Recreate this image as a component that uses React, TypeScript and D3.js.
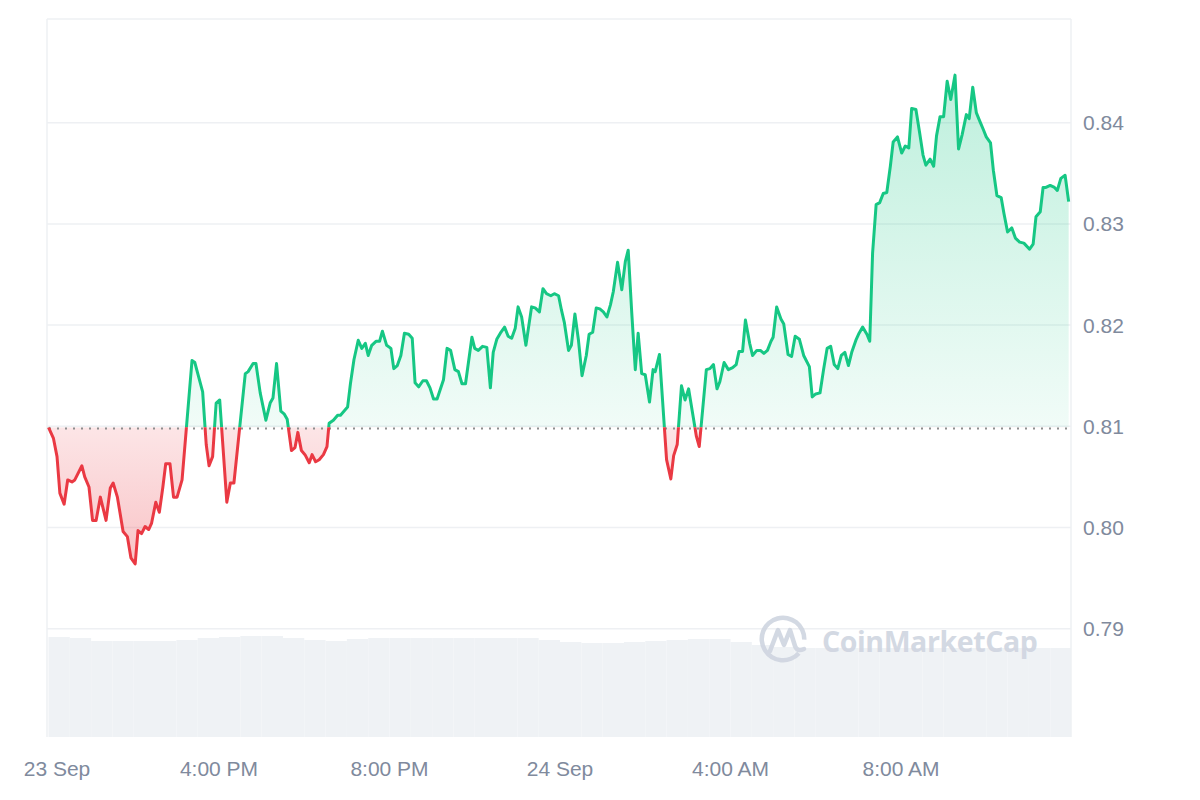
import React from "react";
import * as d3 from "d3";

// ---- Data (minutes after 12:00 PM, 23 Sep; price in USD) ----
const priceSeries: [number, number][] = [
  [0, 0.8099], [7, 0.8088], [12, 0.807], [16, 0.8034], [22, 0.8023], [27, 0.8047], [33, 0.8045], [37, 0.8047],
  [47, 0.8061], [51, 0.805], [57, 0.804], [62, 0.8007], [67, 0.8007], [73, 0.803], [81, 0.8007], [87, 0.8039],
  [91, 0.8044], [97, 0.803], [105, 0.7996], [111, 0.7991], [116, 0.797], [122, 0.7964], [126, 0.7997], [131, 0.7994],
  [136, 0.8001], [141, 0.7998], [145, 0.8004], [151, 0.8025], [156, 0.8015], [161, 0.804], [165, 0.8063], [171, 0.8063],
  [176, 0.803], [181, 0.803], [188, 0.8047], [202, 0.8165], [206, 0.8163], [217, 0.8134], [222, 0.8082], [226, 0.8061],
  [231, 0.807], [236, 0.8123], [241, 0.8126], [251, 0.8025], [256, 0.8044], [261, 0.8044], [277, 0.8152], [281, 0.8154],
  [288, 0.8162], [292, 0.8162], [298, 0.8133], [306, 0.8106], [312, 0.8123], [316, 0.8128], [321, 0.8162], [327, 0.8115],
  [332, 0.8112], [336, 0.8107], [342, 0.8076], [347, 0.8079], [351, 0.8094], [356, 0.8076], [361, 0.8072], [367, 0.8064],
  [371, 0.8072], [376, 0.8065], [381, 0.8067], [387, 0.8072], [392, 0.808], [395, 0.8103], [401, 0.8106], [407, 0.8111],
  [411, 0.8111], [421, 0.8119], [425, 0.8142], [430, 0.8166], [436, 0.8185], [441, 0.8177], [446, 0.8182], [450, 0.817],
  [455, 0.818], [461, 0.8184], [466, 0.8184], [470, 0.8194], [476, 0.818], [482, 0.8177], [486, 0.8157], [491, 0.816],
  [496, 0.817], [501, 0.8192], [507, 0.8191], [512, 0.8187], [516, 0.8143], [521, 0.8139], [527, 0.8145], [532, 0.8145],
  [537, 0.8138], [542, 0.8127], [547, 0.8127], [556, 0.8146], [561, 0.8177], [566, 0.8175], [572, 0.8156], [577, 0.8154],
  [582, 0.8142], [587, 0.8142], [596, 0.8188], [600, 0.8177], [605, 0.8175], [611, 0.8179], [617, 0.8178], [622, 0.8138],
  [626, 0.8173], [631, 0.8186], [636, 0.8192], [642, 0.8198], [647, 0.8189], [652, 0.8187], [657, 0.8197], [661, 0.8218],
  [666, 0.8208], [672, 0.818], [680, 0.8218], [685, 0.8217], [691, 0.8213], [696, 0.8236], [701, 0.8231], [707, 0.8229],
  [712, 0.8231], [718, 0.8229], [722, 0.8215], [726, 0.8203], [732, 0.8175], [736, 0.818], [741, 0.8211], [746, 0.8185],
  [751, 0.815], [757, 0.817], [761, 0.8191], [766, 0.8193], [771, 0.8217], [776, 0.8216], [781, 0.8213], [786, 0.8208],
  [791, 0.822], [795, 0.8233], [801, 0.8262], [807, 0.8235], [812, 0.8263], [816, 0.8274], [821, 0.8212], [826, 0.8156],
  [830, 0.8192], [835, 0.8152], [840, 0.8151], [846, 0.8124], [851, 0.8156], [854, 0.8154], [860, 0.8171], [870, 0.8067],
  [876, 0.8048], [880, 0.8071], [885, 0.8082], [891, 0.814], [896, 0.8126], [901, 0.8137], [912, 0.809], [916, 0.808],
  [926, 0.8156], [931, 0.8157], [936, 0.8161], [941, 0.8137], [945, 0.8144], [951, 0.8163], [957, 0.8156], [963, 0.8158],
  [968, 0.8161], [972, 0.8174], [977, 0.8174], [981, 0.8205], [987, 0.8182], [991, 0.817], [997, 0.8175], [1002, 0.8175],
  [1007, 0.8172], [1012, 0.8175], [1017, 0.8184], [1020, 0.8188], [1025, 0.8218], [1031, 0.8206], [1035, 0.8201], [1041, 0.8171],
  [1046, 0.8169], [1051, 0.8189], [1057, 0.8186], [1063, 0.817], [1071, 0.8159], [1075, 0.8129], [1080, 0.8132], [1086, 0.8133],
  [1091, 0.8156], [1096, 0.8177], [1101, 0.8179], [1106, 0.8161], [1111, 0.8157], [1116, 0.817], [1121, 0.8173], [1126, 0.816],
  [1131, 0.8174], [1137, 0.8186], [1141, 0.8192], [1146, 0.8198], [1152, 0.8191], [1156, 0.8184], [1160, 0.8271], [1165, 0.8319],
  [1170, 0.8321], [1175, 0.833], [1180, 0.8331], [1185, 0.8357], [1189, 0.8381], [1195, 0.8386], [1201, 0.837], [1206, 0.8377],
  [1211, 0.8375], [1215, 0.8414], [1221, 0.8413], [1226, 0.8391], [1231, 0.8368], [1235, 0.8358], [1241, 0.8364], [1246, 0.8357],
  [1250, 0.8387], [1255, 0.8406], [1260, 0.8406], [1265, 0.8441], [1270, 0.8423], [1276, 0.8447], [1281, 0.8374], [1286, 0.8388],
  [1292, 0.8408], [1296, 0.8404], [1301, 0.8435], [1306, 0.841], [1310, 0.8403], [1316, 0.8393], [1320, 0.8386], [1326, 0.838],
  [1330, 0.8353], [1335, 0.8328], [1341, 0.8326], [1345, 0.831], [1350, 0.8292], [1356, 0.8296], [1361, 0.8286], [1367, 0.8282],
  [1373, 0.8281], [1381, 0.8275], [1386, 0.828], [1390, 0.8307], [1396, 0.8312], [1400, 0.8336], [1404, 0.8336], [1410, 0.8338],
  [1416, 0.8336], [1420, 0.8333], [1425, 0.8345], [1431, 0.8348], [1436, 0.8322],
];

// Volume per 30-minute block (relative units)
const volumeValues: number[] = [
  100, 99, 96, 96, 96, 96, 97, 99, 100, 101, 101, 99, 97, 96, 98, 99, 99, 99, 99, 99, 99, 99, 99, 97,
  95, 94, 94, 95, 96, 97, 98, 98, 95, 92, 90, 89, 89, 89, 89, 89, 89, 89, 89, 89, 89, 89, 89, 89,
];
const volumeBlockMinutes = 30;

const yTicks: number[] = [0.79, 0.8, 0.81, 0.82, 0.83, 0.84];
const xTickMinutes: number[] = [0, 240, 480, 720, 960, 1200];
const xTickLabels: string[] = ["23 Sep", "4:00 PM", "8:00 PM", "24 Sep", "4:00 AM", "8:00 AM"];

// ---- Layout ----
const W = 1200;
const H = 800;
const plotLeft = 47;
const plotRight = 1071;
const plotTop = 19;
const plotBottom = 737;
const GREEN = "#16c784";
const RED = "#ea3943";
const TEXT = "#808a9d";
const GRID = "#eef0f3";
const FONT = "'Liberation Sans', Arial, Helvetica, sans-serif";

export default function App() {
  const x = d3.scaleLinear().domain([0, 1440]).range([48.5, 1071.5]);
  const y = d3.scaleLinear().domain([0.79, 0.84]).range([628.7, 122.7]);
  const base = priceSeries[0][1];
  const baseY = y(base);

  const maxP = d3.max(priceSeries, (d) => d[1]) as number;
  const minP = d3.min(priceSeries, (d) => d[1]) as number;

  const line = d3
    .line<[number, number]>()
    .x((d) => x(d[0]))
    .y((d) => y(d[1]));
  const area = d3
    .area<[number, number]>()
    .x((d) => x(d[0]))
    .y0(baseY)
    .y1((d) => y(d[1]));

  const vMax = d3.max(volumeValues) as number;
  const vy = d3.scaleLinear().domain([0, vMax]).range([plotBottom, 636]);

  const linePath = line(priceSeries) || "";
  const areaPath = area(priceSeries) || "";

  return (
    <svg
      width={W}
      height={H}
      style={{ position: "absolute", left: 0, top: 0, background: "#fff" }}
      fontFamily={FONT}
    >
      <defs>
        <clipPath id="above">
          <rect x={0} y={0} width={W} height={baseY} />
        </clipPath>
        <clipPath id="below">
          <rect x={0} y={baseY} width={W} height={H - baseY} />
        </clipPath>
        <linearGradient id="gGreen" gradientUnits="userSpaceOnUse" x1={0} x2={0} y1={y(maxP)} y2={baseY}>
          <stop offset="0%" stopColor={GREEN} stopOpacity={0.28} />
          <stop offset="100%" stopColor={GREEN} stopOpacity={0.06} />
        </linearGradient>
        <linearGradient id="gRed" gradientUnits="userSpaceOnUse" x1={0} x2={0} y1={baseY} y2={y(minP)}>
          <stop offset="0%" stopColor={RED} stopOpacity={0.13} />
          <stop offset="100%" stopColor={RED} stopOpacity={0.3} />
        </linearGradient>
      </defs>

      {/* volume bars */}
      <g>
        {volumeValues.map((v, i) => {
          const x0 = Math.max(x(i * volumeBlockMinutes), plotLeft);
          const x1 = Math.min(x((i + 1) * volumeBlockMinutes), plotRight);
          return (
            <rect key={i} x={x0} y={vy(v)} width={Math.max(0, x1 - x0)} height={plotBottom - vy(v)} fill="#eff2f5" />
          );
        })}
      </g>

      {/* grid */}
      <g>
        <line x1={plotLeft} x2={plotRight} y1={plotTop} y2={plotTop} stroke={GRID} strokeWidth={1.5} />
        {yTicks.map((t) => (
          <line key={t} x1={plotLeft} x2={plotRight} y1={y(t)} y2={y(t)} stroke={GRID} strokeWidth={1.5} />
        ))}
        <line x1={plotLeft} x2={plotLeft} y1={plotTop} y2={plotBottom} stroke={GRID} strokeWidth={1.5} />
        <line x1={plotRight} x2={plotRight} y1={plotTop} y2={plotBottom} stroke={GRID} strokeWidth={1.5} />
      </g>

      {/* watermark */}
      <g opacity={0.9}>
        <path
          d={d3.arc()({ innerRadius: 19, outerRadius: 23.5, startAngle: 2.3, endAngle: 2.3 + 2 * Math.PI - 0.7 }) || ""}
          transform="translate(783,639)"
          fill="#cfd5e0"
        />
        <path
          d="M770,651 L778,630 L784,645 L790,630 L795,646 Q797,652 804,649"
          fill="none"
          stroke="#cfd5e0"
          strokeWidth={4.5}
          strokeLinejoin="round"
          strokeLinecap="round"
        />
        <text x={822} y={652} fontSize={28.5} fontWeight={700} fill="#cfd5e0" fontFamily="'Open Sans', 'Noto Sans', sans-serif" letterSpacing={-0.4}>
          CoinMarketCap
        </text>
      </g>

      {/* area fills */}
      <path d={areaPath} fill="url(#gGreen)" clipPath="url(#above)" />
      <path d={areaPath} fill="url(#gRed)" clipPath="url(#below)" />

      {/* baseline */}
      <line
        x1={plotLeft + 2}
        x2={plotRight}
        y1={baseY + 1.2}
        y2={baseY + 1.2}
        stroke="#8e8e8e"
        strokeWidth={2}
        strokeDasharray="2 6"
      />

      {/* price line */}
      <path d={linePath} fill="none" stroke={GREEN} strokeWidth={3} strokeLinejoin="round" clipPath="url(#above)" />
      <path d={linePath} fill="none" stroke={RED} strokeWidth={3} strokeLinejoin="round" clipPath="url(#below)" />

      {/* y axis labels */}
      <g>
        {yTicks.map((t) => (
          <text key={t} x={1083} y={y(t)} dy="0.36em" fontSize={21} fill={TEXT}>
            {t.toFixed(2)}
          </text>
        ))}
      </g>

      {/* x axis labels */}
      <g>
        {xTickMinutes.map((m, i) => (
          <text key={m} x={Math.max(x(m), 57)} y={776} fontSize={21} fill={TEXT} textAnchor="middle">
            {xTickLabels[i]}
          </text>
        ))}
      </g>
    </svg>
  );
}
